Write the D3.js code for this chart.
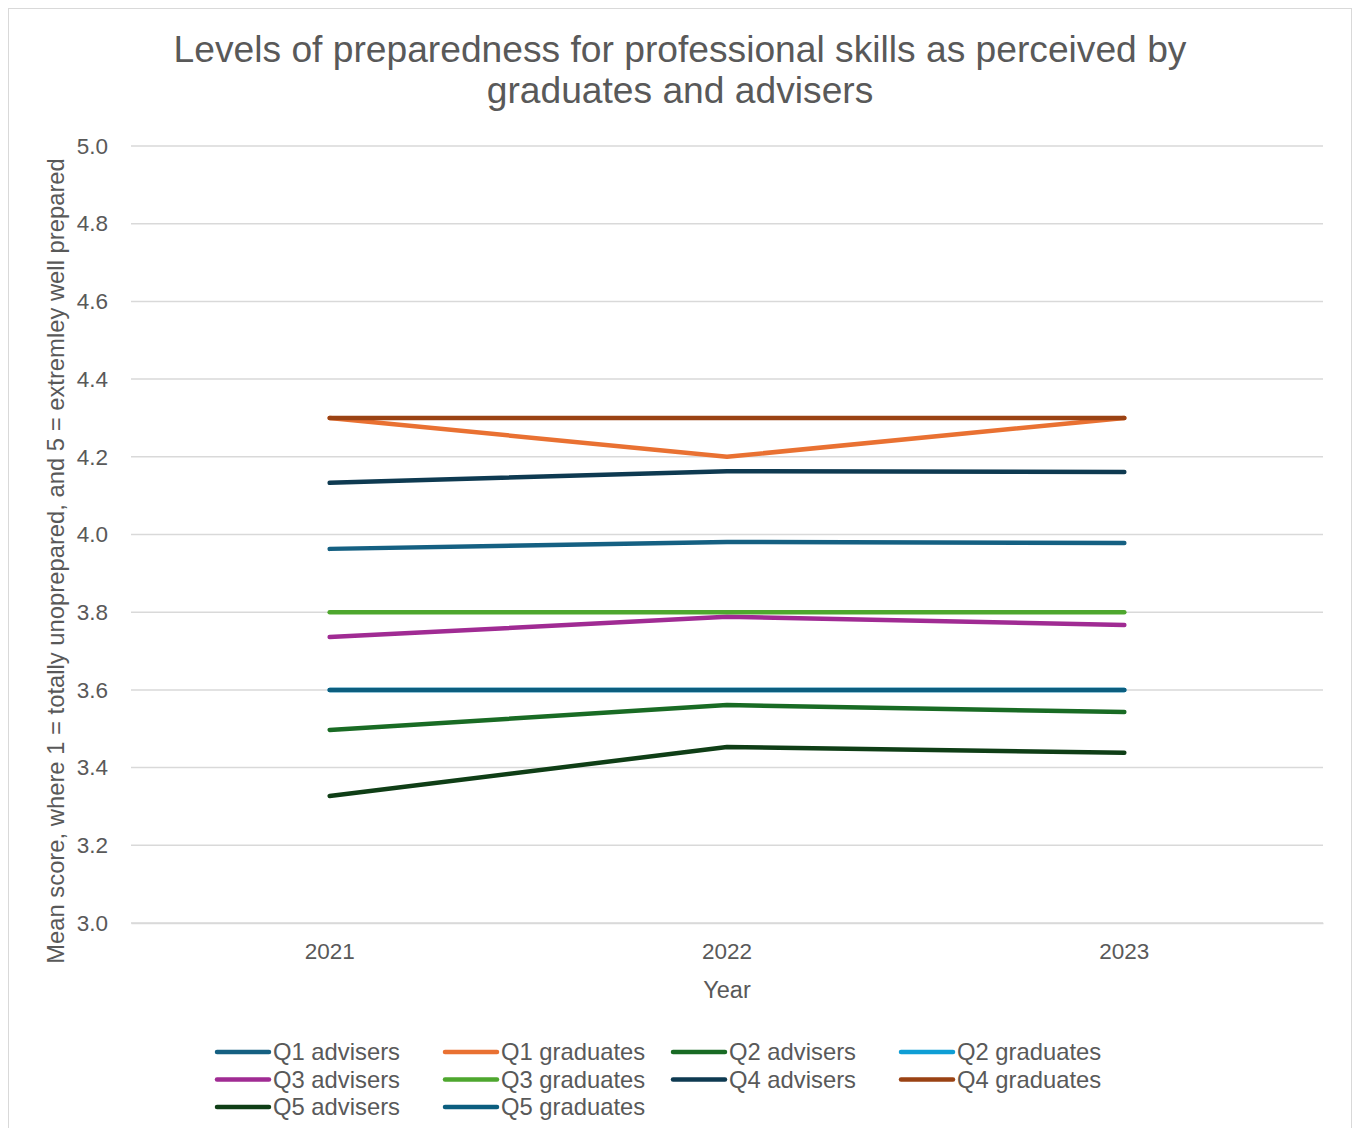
<!DOCTYPE html>
<html><head><meta charset="utf-8">
<script src="https://cdn.jsdelivr.net/npm/d3@7"></script>
<style>body{margin:0;background:#fff;} text{font-family:"Liberation Sans",Arial,sans-serif;}</style>
</head><body>
<svg id="chart" width="1360" height="1128"></svg>
<script>
const years = ["2021","2022","2023"];
const seriesNames = ["Q1 advisers","Q1 graduates","Q2 advisers","Q2 graduates","Q3 advisers","Q3 graduates","Q4 advisers","Q4 graduates","Q5 advisers","Q5 graduates"];
const q1Advisers = [3.963, 3.981, 3.978];
const q1Graduates = [4.3, 4.2, 4.3];
const q2Advisers = [3.497, 3.561, 3.543];
const q2Graduates = [3.6, 3.6, 3.6];
const q3Advisers = [3.736, 3.788, 3.767];
const q3Graduates = [3.8, 3.8, 3.8];
const q4Advisers = [4.133, 4.163, 4.161];
const q4Graduates = [4.3, 4.3, 4.3];
const q5Advisers = [3.327, 3.453, 3.438];
const q5Graduates = [3.6, 3.6, 3.6];
const seriesValues = [q1Advisers,q1Graduates,q2Advisers,q2Graduates,q3Advisers,q3Graduates,q4Advisers,q4Graduates,q5Advisers,q5Graduates];
const colors = ["#156082","#E97132","#196B24","#0F9ED5","#A02B93","#4EA72E","#0E3A51","#9A4213","#0F3E16","#0B5E7F"];
const yTicks = [3.0,3.2,3.4,3.6,3.8,4.0,4.2,4.4,4.6,4.8,5.0];

(function(){
const svg = d3.select("#chart");
const grey = "#595959";
svg.append("rect").attr("x",8.5).attr("y",8.5).attr("width",1343).attr("height",1140)
  .attr("fill","#fff").attr("stroke","#d9d9d9").attr("stroke-width",1);

svg.append("text").attr("x",680).attr("y",62).attr("text-anchor","middle")
  .attr("font-size",37.2).attr("fill",grey).text("Levels of preparedness for professional skills as perceived by");
svg.append("text").attr("x",680).attr("y",103).attr("text-anchor","middle")
  .attr("font-size",37.2).attr("fill",grey).text("graduates and advisers");

const pL=131, pR=1323, pT=146, pB=923;
const x = d3.scaleBand().domain(years).range([pL,pR]);
const y = d3.scaleLinear().domain([3,5]).range([pB,pT]);

svg.append("g").selectAll("line").data(yTicks).join("line")
  .attr("x1",pL).attr("x2",pR).attr("y1",d=>y(d)).attr("y2",d=>y(d))
  .attr("stroke","#d9d9d9").attr("stroke-width",1.5);

const yAxis = svg.append("g").attr("transform",`translate(${pL},0)`)
  .call(d3.axisLeft(y).tickValues(yTicks).tickFormat(d3.format(".1f")).tickSize(0).tickPadding(23));
yAxis.select(".domain").remove();
yAxis.selectAll("text").attr("font-size",22.5).attr("fill",grey).attr("font-family","Liberation Sans, Arial, sans-serif");

const xAxis = svg.append("g").attr("transform",`translate(0,${pB})`)
  .call(d3.axisBottom(x).tickSize(0).tickPadding(20));
xAxis.select(".domain").attr("stroke","#d9d9d9").attr("stroke-width",1.5);
xAxis.selectAll("text").attr("font-size",22.5).attr("fill",grey).attr("font-family","Liberation Sans, Arial, sans-serif");

svg.append("text").attr("x",(pL+pR)/2).attr("y",998).attr("text-anchor","middle")
  .attr("font-size",23.5).attr("fill",grey).text("Year");
svg.append("text").attr("transform",`translate(64,561) rotate(-90)`).attr("text-anchor","middle")
  .attr("font-size",23.8).attr("fill",grey).text("Mean score, where 1 = totally unoprepared, and 5 = extremley well prepared");

const line = d3.line().x((d,i)=>x(years[i])+x.bandwidth()/2).y(d=>y(d));
svg.append("g").selectAll("path").data(seriesValues).join("path")
  .attr("d",d=>line(d)).attr("fill","none").attr("stroke",(d,i)=>colors[i])
  .attr("stroke-width",4.5).attr("stroke-linecap","round").attr("stroke-linejoin","round");

const leg = svg.append("g");
seriesNames.forEach((name,i)=>{
  const col=i%4, row=Math.floor(i/4);
  const lx=217+col*228, ly=1052+row*27.5;
  leg.append("line").attr("x1",lx).attr("x2",lx+52).attr("y1",ly).attr("y2",ly)
    .attr("stroke",colors[i]).attr("stroke-width",4.5).attr("stroke-linecap","round");
  leg.append("text").attr("x",lx+56).attr("y",ly+8).attr("font-size",23.8).attr("fill",grey).text(name);
});
})();
</script>
</body></html>
